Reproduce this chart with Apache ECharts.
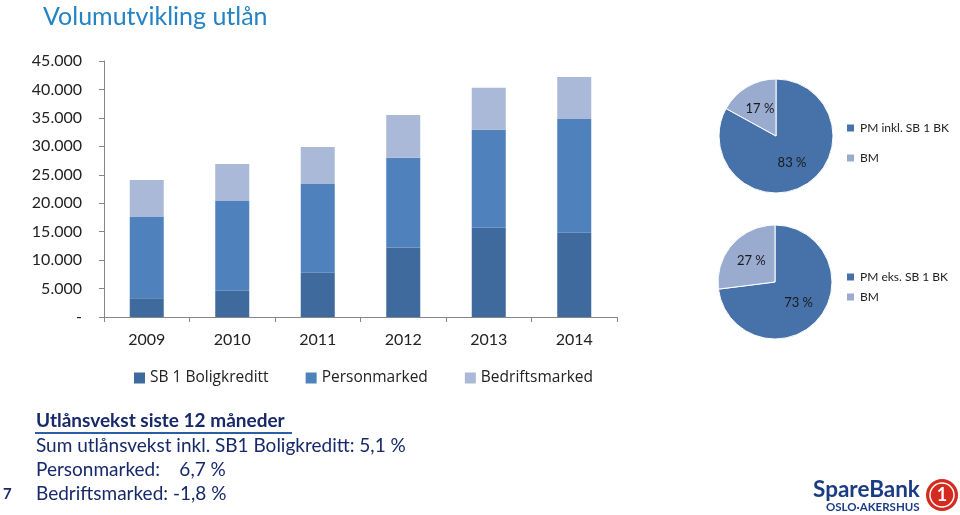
<!DOCTYPE html>
<html>
<head>
<meta charset="utf-8">
<script src="https://cdn.jsdelivr.net/npm/echarts@6/dist/echarts.min.js"></script>
<style>
  html, body { margin: 0; padding: 0; background: #fff; }
  #chart { width: 960px; height: 515px; }
</style>
</head>
<body>
<div id="chart"></div>
<script>
// values in MNOK
const years = ['2009', '2010', '2011', '2012', '2013', '2014']
const boligkreditt = [3300, 4600, 7800, 12200, 15700, 14800]
const personmarked = [14300, 15800, 15600, 15800, 17200, 20100]
const bedriftsmarked = [6500, 6500, 6500, 7500, 7400, 7300]

const pieInklNames = ['PM inkl. SB 1 BK', 'BM']
const pieInklValues = [83, 17]
const pieEksNames = ['PM eks. SB 1 BK', 'BM']
const pieEksValues = [73, 27]

const growthLines = [
  'Sum utlånsvekst inkl. SB1 Boligkreditt: 5,1 %',
  'Personmarked:    6,7 %',
  'Bedriftsmarked: -1,8 %'
]

const font = 'Lato'
const navy = '#17296a'
const pieDark = '#4672a9'
const pieLight = '#9aabd0'

const chart = echarts.init(document.getElementById('chart'))

const fmtThousands = (v) => v === 0 ? '-' : String(v).replace(/\B(?=(\d{3})+(?!\d))/g, '.')

const barSeries = (name, data, color) => ({
  name,
  type: 'bar',
  stack: 'total',
  barWidth: 34,
  data,
  itemStyle: { color },
  emphasis: { disabled: true }
})

const pieSeries = (names, values, center) => ({
  type: 'pie',
  center,
  radius: 57,
  startAngle: 90,
  clockwise: true,
  silent: true,
  itemStyle: { borderColor: '#fff', borderWidth: 1 },
  label: {
    position: 'inside',
    formatter: '{c} %',
    color: '#1a1a1a',
    fontFamily: font,
    fontSize: 13
  },
  labelLine: { show: false },
  data: names.map((n, i) => ({
    name: n,
    value: values[i],
    itemStyle: { color: i === 0 ? pieDark : pieLight }
  }))
})

const option = {
  animation: false,
  textStyle: { fontFamily: font },
  title: {
    text: 'Volumutvikling utlån',
    left: 38,
    top: -1,
    textStyle: { fontFamily: font, fontSize: 25, fontWeight: 'normal', color: '#2383c4' }
  },
  grid: { left: 104, right: 343, top: 61, bottom: 198 },
  legend: [
    {
      data: ['SB 1 Boligkreditt', 'Personmarked', 'Bedriftsmarked'],
      left: 129,
      top: 365,
      itemWidth: 11,
      itemHeight: 11,
      itemGap: 37,
      icon: 'rect',
      selectedMode: false,
      textStyle: { fontFamily: 'Open Sans', fontSize: 15.5, color: '#222' }
    },
    {
      data: pieInklNames,
      orient: 'vertical',
      left: 840,
      top: 116,
      itemWidth: 9,
      itemHeight: 9,
      itemGap: 16,
      icon: 'rect',
      selectedMode: false,
      textStyle: { fontFamily: font, fontSize: 12, color: '#222', lineHeight: 14 }
    },
    {
      data: pieEksNames,
      orient: 'vertical',
      left: 840,
      top: 265,
      itemWidth: 9,
      itemHeight: 9,
      itemGap: 6,
      icon: 'rect',
      selectedMode: false,
      textStyle: { fontFamily: font, fontSize: 12, color: '#222', lineHeight: 14 }
    }
  ],
  xAxis: {
    type: 'category',
    data: years,
    axisLine: { lineStyle: { color: '#868686' } },
    axisTick: { show: true, alignWithLabel: false, length: 5, lineStyle: { color: '#868686' } },
    axisLabel: { color: '#222', fontFamily: font, fontSize: 16, margin: 15 }
  },
  yAxis: {
    type: 'value',
    min: 0,
    max: 45000,
    interval: 5000,
    splitLine: { show: false },
    axisLine: { show: true, lineStyle: { color: '#868686' } },
    axisTick: { show: true, length: 5, lineStyle: { color: '#868686' } },
    axisLabel: { color: '#222', fontFamily: font, fontSize: 16, margin: 22, formatter: fmtThousands }
  },
  series: [
    barSeries('SB 1 Boligkreditt', boligkreditt, '#3e6a9e'),
    barSeries('Personmarked', personmarked, '#4f81bd'),
    barSeries('Bedriftsmarked', bedriftsmarked, '#aab9d7'),
    pieSeries(pieInklNames, pieInklValues, [776, 136]),
    pieSeries(pieEksNames, pieEksValues, [775, 282])
  ],
  graphic: [
    {
      type: 'text',
      left: 36,
      top: 411,
      style: { text: 'Utlånsvekst siste 12 måneder', fill: navy, font: 'bold 19px ' + font }
    },
    {
      type: 'rect',
      shape: { x: 35, y: 432, width: 257, height: 2 },
      style: { fill: '#2a5fa5' }
    },
    ...growthLines.map((t, i) => ({
      type: 'text',
      left: 36,
      top: 436 + i * 24,
      style: { text: t, fill: navy, font: '19px ' + font }
    })),
    {
      type: 'text',
      left: 3,
      top: 487,
      style: { text: '7', fill: navy, font: 'bold 15px ' + font }
    },
    {
      type: 'text',
      left: 813,
      top: 478,
      style: { text: 'SpareBank', fill: '#1b3c84', font: 'bold 22.5px ' + font }
    },
    {
      type: 'text',
      left: 826,
      top: 501,
      style: { text: 'OSLO·AKERSHUS', fill: '#1b3c84', font: 'bold 11.5px ' + font }
    },
    {
      type: 'circle',
      shape: { cx: 942, cy: 495, r: 16 },
      style: { fill: '#d42a1f' }
    },
    {
      type: 'circle',
      shape: { cx: 942, cy: 495, r: 12 },
      style: { fill: 'none', stroke: '#fff', lineWidth: 1.5 }
    },
    {
      type: 'text',
      x: 942,
      y: 495,
      style: { text: '1', fill: '#fff', font: 'bold 18px ' + font, align: 'center', verticalAlign: 'middle' }
    }
  ]
}

chart.setOption(option)
</script>
</body>
</html>
